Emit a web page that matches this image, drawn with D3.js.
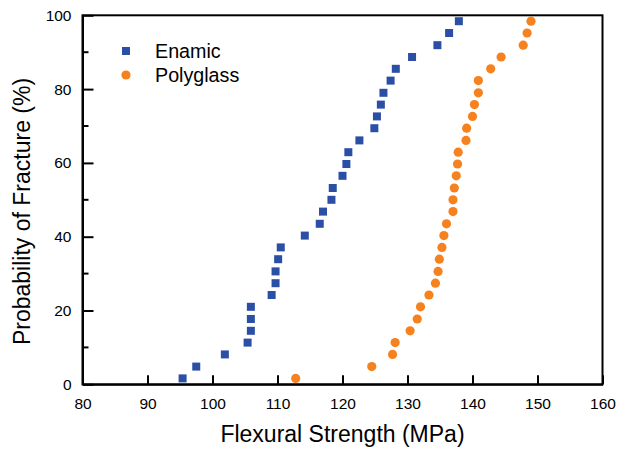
<!DOCTYPE html>
<html lang="en">
<head>
<meta charset="UTF-8">
<title>Flexural Strength</title>
<style>
  body { margin: 0; background: #fff; }
  text { font-family: "Liberation Sans", Arial, sans-serif; fill: #000; }
</style>
</head>
<body>
<svg width="619" height="452"></svg>
<script src="https://d3js.org/d3.v7.min.js"></script>
<script>
// Enamic (blue squares)
var enamicStrength = [95.4, 97.5, 101.9, 105.4, 105.9, 105.9, 105.9, 109.1, 109.7, 109.7,
  110.1, 110.5, 114.2, 116.5, 117.0, 118.3, 118.5, 120.0, 120.6, 120.9,
  122.6, 124.9, 125.3, 125.9, 126.3, 127.4, 128.2, 130.7, 134.6, 136.4, 137.9];
var enamicProb = [1.6, 4.8, 8.1, 11.3, 14.5, 17.7, 21.0, 24.2, 27.4, 30.6,
  33.9, 37.1, 40.3, 43.5, 46.8, 50.0, 53.2, 56.5, 59.7, 62.9,
  66.1, 69.4, 72.6, 75.8, 79.0, 82.3, 85.5, 88.7, 91.9, 95.2, 98.4];

// Polyglass (orange circles)
var polyStrength = [112.8, 124.5, 127.7, 128.1, 130.4, 131.5, 132.0, 133.3, 134.3, 134.7,
  134.9, 135.3, 135.6, 136.0, 137.0, 137.0, 137.2, 137.5, 137.7, 137.8,
  139.0, 139.1, 140.0, 140.3, 140.9, 140.9, 142.8, 144.4, 147.8, 148.4, 149.0];
var polyProb = [1.6, 4.8, 8.1, 11.3, 14.5, 17.7, 21.0, 24.2, 27.4, 30.6,
  33.9, 37.1, 40.3, 43.5, 46.8, 50.0, 53.2, 56.5, 59.7, 62.9,
  66.1, 69.4, 72.6, 75.8, 79.0, 82.3, 85.5, 88.7, 91.9, 95.2, 98.4];

var xTicks = [80, 90, 100, 110, 120, 130, 140, 150, 160];
var yTicks = [0, 20, 40, 60, 80, 100];
var yMinorTicks = [10, 30, 50, 70, 90];

var svg = d3.select("svg");
var margin = {left: 82.5, right: 16.5, top: 15.3, bottom: 67.7};
var width = 619 - margin.left - margin.right,
    height = 452 - margin.top - margin.bottom;

var g = svg.append("g").attr("transform", "translate(" + margin.left + "," + margin.top + ")");

var x = d3.scaleLinear().domain([80, 160]).range([0, width]);
var y = d3.scaleLinear().domain([0, 100]).range([height, 0]);

var blue = "#2b4fa5", orange = "#f5821f";

// frame
g.append("rect")
  .attr("width", width).attr("height", height)
  .attr("fill", "none").attr("stroke", "#000").attr("stroke-width", 2);

// x axis, ticks pointing inward
var xAxis = g.append("g")
  .attr("transform", "translate(0," + height + ")")
  .call(d3.axisBottom(x).tickValues(xTicks).tickSizeInner(-9).tickSizeOuter(0).tickPadding(14));
xAxis.select(".domain").attr("stroke-width", 2);
xAxis.selectAll(".tick line").attr("stroke-width", 2);
xAxis.selectAll(".tick text").style("font-size", "15.5px");

// y axis
var yAxis = g.append("g")
  .call(d3.axisLeft(y).tickValues(yTicks).tickSizeInner(-11).tickSizeOuter(0).tickPadding(11));
yAxis.select(".domain").attr("stroke-width", 2);
yAxis.selectAll(".tick line").attr("stroke-width", 2);
yAxis.selectAll(".tick text").style("font-size", "15.5px");

g.append("g").selectAll("line")
  .data(yMinorTicks)
  .enter().append("line")
  .attr("x1", 0).attr("x2", 6)
  .attr("y1", d => y(d)).attr("y2", d => y(d))
  .attr("stroke", "#000").attr("stroke-width", 2);

// axis titles
svg.append("text")
  .attr("x", margin.left + width / 2).attr("y", 441.5)
  .attr("text-anchor", "middle")
  .style("font-size", "23px")
  .text("Flexural Strength (MPa)");

svg.append("text")
  .attr("transform", "translate(29.5,211.5) rotate(-90)")
  .attr("text-anchor", "middle")
  .style("font-size", "23px")
  .text("Probability of Fracture (%)");

// Enamic points
var s = 8;
g.append("g").selectAll("rect")
  .data(d3.zip(enamicStrength, enamicProb))
  .enter().append("rect")
  .attr("x", d => x(d[0]) - s / 2)
  .attr("y", d => y(d[1]) - s / 2)
  .attr("width", s).attr("height", s)
  .attr("fill", blue);

// Polyglass points
g.append("g").selectAll("circle")
  .data(d3.zip(polyStrength, polyProb))
  .enter().append("circle")
  .attr("cx", d => x(d[0]))
  .attr("cy", d => y(d[1]))
  .attr("r", 4.6)
  .attr("fill", orange);

// legend
var legend = svg.append("g");
legend.append("rect")
  .attr("x", 122).attr("y", 47).attr("width", 8).attr("height", 8)
  .attr("fill", blue);
legend.append("circle")
  .attr("cx", 126).attr("cy", 75).attr("r", 4.6)
  .attr("fill", orange);
legend.append("text")
  .attr("x", 155).attr("y", 57.5)
  .style("font-size", "19.7px")
  .text("Enamic");
legend.append("text")
  .attr("x", 155).attr("y", 81.5)
  .style("font-size", "19.7px")
  .text("Polyglass");
</script>
</body>
</html>
